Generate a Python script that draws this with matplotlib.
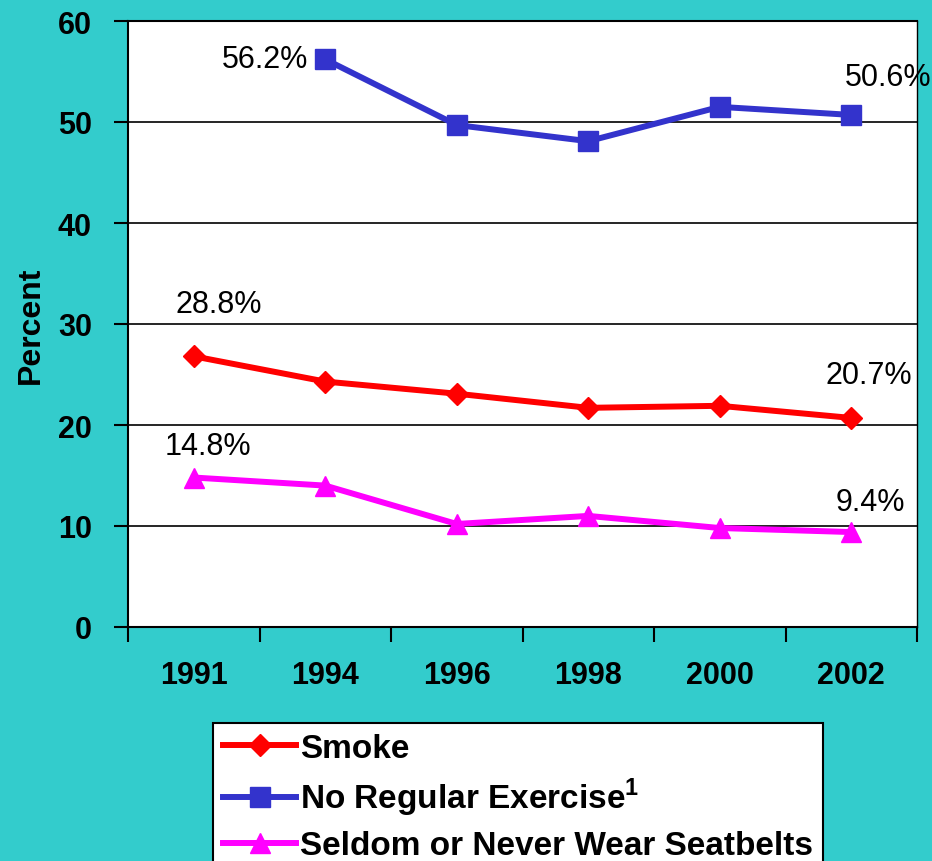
import numpy as np
import matplotlib
matplotlib.use('Agg')
import matplotlib.pyplot as plt

plt.rcParams['font.family'] = ['Liberation Sans', 'DejaVu Sans']
plt.rcParams['mathtext.fontset'] = 'custom'
plt.rcParams['mathtext.rm'] = 'Liberation Sans'
plt.rcParams['mathtext.bf'] = 'Liberation Sans:bold'

years = ['1991', '1994', '1996', '1998', '2000', '2002']
smoke = [26.8, 24.3, 23.1, 21.7, 21.9, 20.7]
exercise = [np.nan, 56.2, 49.7, 48.1, 51.5, 50.7]
seatbelts = [14.8, 14.0, 10.2, 11.0, 9.8, 9.4]

# point index and label text
smoke_labels = [(0, '28.8%'), (5, '20.7%')]
exercise_labels = [(1, '56.2%'), (5, '50.6%')]
seatbelt_labels = [(0, '14.8%'), (5, '9.4%')]

bg = '#33CCCC'
fig = plt.figure(figsize=(9.32, 8.62), dpi=100, facecolor=bg)
ax = fig.add_axes([128/932, 1-628/862, 789/932, 606/862])
ax.set_facecolor('white')

x = np.arange(len(years))
ax.plot(x, smoke, color='#FF0000', lw=4.3, marker='D', ms=11, label='Smoke')
ax.plot(x, exercise, color='#3333CC', lw=4.3, marker='s', ms=14,
        label=r'No Regular Exercise$^{\mathbf{1}}$')
ax.plot(x, seatbelts, color='#FF00FF', lw=4.3, marker='^', ms=15,
        label='Seldom or Never Wear Seatbelts')

ax.set_xlim(-0.5, 5.5)
ax.set_ylim(0, 60)
ax.set_yticks(range(0, 61, 10))
ax.set_yticklabels([str(v) for v in range(0, 61, 10)], fontsize=22, fontweight='bold')
ax.yaxis.grid(True, color='black', lw=1.2)
ax.set_axisbelow(True)
ax.set_xticks(np.arange(-0.5, 6, 1))
ax.set_xticklabels([])
ax.set_xticks(x, minor=True)
ax.set_xticklabels(years, minor=True, fontsize=22, fontweight='bold')
ax.tick_params(axis='x', which='minor', length=0, pad=24)
ax.tick_params(axis='x', which='major', length=11, width=1.5, direction='out')
ax.tick_params(axis='y', length=10, width=1.5, pad=16)
for s in ax.spines.values():
    s.set_linewidth(1.5)
ax.spines['right'].set_linewidth(1.0)
ax.set_ylabel('Percent', fontsize=23, fontweight='bold', labelpad=9)

offsets = {('s', 0): ((25, 52), 'center'), ('s', 5): ((-26, 43), 'left'),
           ('e', 1): ((-17, 0), 'right'), ('e', 5): ((-6, 38), 'left'),
           ('b', 0): ((-29, 32), 'left'), ('b', 5): ((-16, 30), 'left')}
for key, data, labels in [('s', smoke, smoke_labels), ('e', exercise, exercise_labels),
                          ('b', seatbelts, seatbelt_labels)]:
    for i, t in labels:
        off, ha = offsets[(key, i)]
        ax.annotate(t, xy=(x[i], data[i]), xytext=off, textcoords='offset pixels',
                    ha=ha, va='center', fontsize=22, annotation_clip=False)

leg = fig.legend(loc='upper left', bbox_to_anchor=(213/932, 1-724/862),
                 prop={'size': 24, 'weight': 'bold'}, frameon=True, fancybox=False,
                 edgecolor='black', facecolor='white', framealpha=1,
                 handlelength=2.2, handletextpad=0.12, labelspacing=0.36,
                 borderpad=0.3, borderaxespad=0)
leg.get_frame().set_linewidth(1.5)

fig.savefig('out.png', dpi=100, facecolor=bg)
